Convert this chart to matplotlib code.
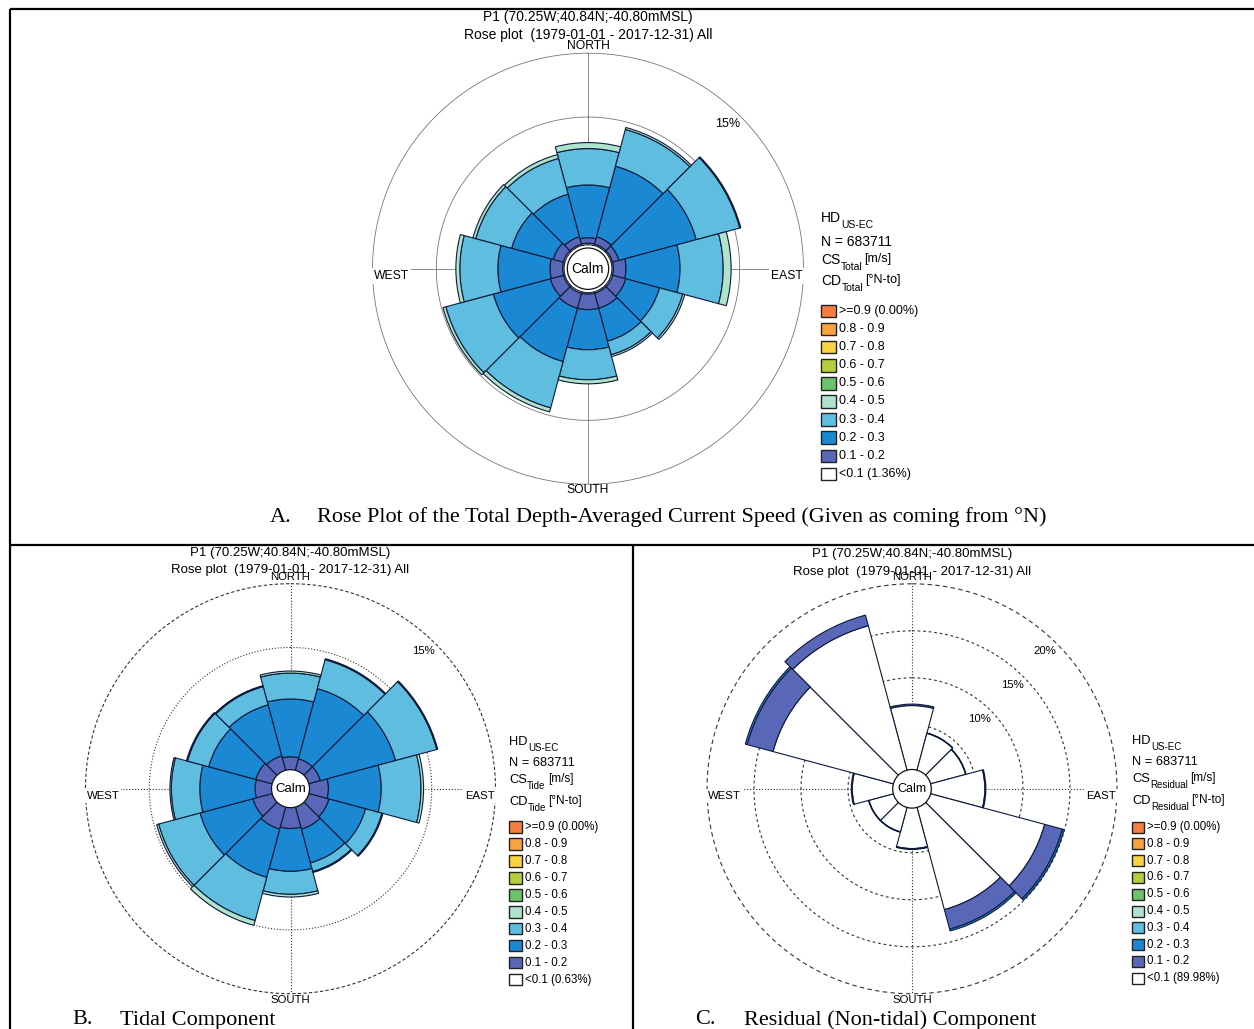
import numpy as np
import matplotlib.pyplot as plt
from matplotlib.patches import Rectangle, Circle

plt.rcParams['font.family'] = ['Liberation Sans', 'DejaVu Sans']

W, H = 1254, 1029

# sector centres, degrees clockwise from north (12 sectors of 30 deg)
sectors = np.arange(0, 360, 30)

classes = ['>=0.9', '0.8 - 0.9', '0.7 - 0.8', '0.6 - 0.7', '0.5 - 0.6',
           '0.4 - 0.5', '0.3 - 0.4', '0.2 - 0.3', '0.1 - 0.2', '<0.1']
class_colors = ['#f57d3f', '#f7a43e', '#f9d340', '#b4cf3c', '#6cc36c',
                '#b0e3cc', '#5fbde0', '#1b88d3', '#5867b8', '#ffffff']

# A - total current, frequency % per sector (N, NNE, ... NNW)
total_lt01 = [0.12, 0.11, 0.11, 0.11, 0.12, 0.11, 0.11, 0.12, 0.11, 0.11, 0.12, 0.11]
total_01_02 = [0.43, 0.60, 0.52, 0.99, 1.06, 1.22, 1.22, 1.21, 1.07, 0.99, 0.82, 0.60]
total_02_03 = [4.13, 5.72, 6.27, 4.23, 2.74, 2.67, 3.14, 4.32, 4.62, 4.08, 3.37, 3.45]
total_03_04 = [2.85, 2.98, 3.53, 3.38, 1.88, 1.10, 2.35, 3.76, 3.85, 2.98, 2.91, 2.90]
total_04_05 = [0.47, 0.16, 0.08, 0.62, 0.16, 0.15, 0.32, 0.32, 0.23, 0.31, 0.23, 0.31]

# B - tidal component
tide_lt01 = [0.06, 0.05, 0.05, 0.06, 0.05, 0.05, 0.06, 0.05, 0.05, 0.06, 0.05, 0.05]
tide_01_02 = [1.37, 1.30, 1.30, 1.84, 2.00, 2.16, 1.99, 2.16, 1.93, 1.64, 1.69, 1.54]
tide_02_03 = [4.53, 5.70, 6.10, 4.14, 2.97, 2.74, 3.36, 3.91, 4.29, 4.34, 3.83, 4.14]
tide_03_04 = [2.03, 2.35, 3.35, 3.12, 1.33, 0.70, 1.80, 3.51, 3.36, 2.23, 1.72, 1.48]
tide_04_05 = [0.16, 0.08, 0.08, 0.20, 0.08, 0.08, 0.21, 0.39, 0.16, 0.11, 0.08, 0.08]

# C - residual (non-tidal) component
res_lt01 = [7.05, 4.30, 4.10, 5.95, 12.80, 11.50, 4.55, 2.93, 2.93, 4.55, 13.50, 16.15]
res_01_02 = [0.15, 0.05, 0.05, 0.10, 1.95, 2.15, 0.10, 0.05, 0.05, 0.10, 2.85, 1.17]
res_02_03 = [0, 0, 0, 0, 0.20, 0.20, 0, 0, 0, 0, 0.20, 0]

title1 = 'P1 (70.25W;40.84N;-40.80mMSL)'
title2 = 'Rose plot  (1979-01-01 - 2017-12-31) All'

fig = plt.figure(figsize=(W / 100, H / 100), dpi=100)


def rose_axes(cx, cy, R, r0, rmax):
    ax = fig.add_axes([(cx - R) / W, 1 - (cy + R) / H, 2 * R / W, 2 * R / H],
                      projection='polar')
    ax.set_theta_zero_location('N')
    ax.set_theta_direction(-1)
    ax.set_ylim(0, rmax)
    ax.set_rorigin(-r0 * rmax / (R - r0))
    ax.set_xticks([])
    ax.set_yticks([])
    ax.grid(False)
    for s in ax.spines.values():
        s.set_visible(False)
    ax.patch.set_visible(False)
    return ax


def draw_grid(ax, rings, rmax, col, lw, ring_ls, outer_ls, cross_ls):
    th = np.linspace(0, 2 * np.pi, 500)
    for p in rings:
        ax.plot(th, np.full_like(th, p), color=col, lw=lw, ls=ring_ls, zorder=1)
    ax.plot(th, np.full_like(th, rmax), color=col, lw=lw, ls=outer_ls,
            zorder=1, clip_on=False)
    for a in (0, 90, 180, 270):
        ax.plot(np.deg2rad([a, a]), [0, rmax], color=col, lw=lw, ls=cross_ls, zorder=1)


def draw_bars(ax, layers, colors):
    theta = np.deg2rad(sectors)
    bottom = np.zeros(len(sectors))
    for vals, c in zip(layers, colors):
        vals = np.asarray(vals, float)
        m = vals > 0
        ax.bar(theta[m], vals[m], width=np.deg2rad(30), bottom=bottom[m],
               color=c, edgecolor='#0d1b3a', linewidth=0.8, zorder=3)
        bottom += vals


def pct_labels(ax, rings, k, fs):
    for p in rings:
        ax.text(np.deg2rad(44), p - 14 / k, f'{p}%', fontsize=fs,
                ha='center', va='center', zorder=5)


# --- A
axA = rose_axes(588, 268.7, 215.5, 24, 15)
draw_grid(axA, [5, 10], 15, '#777777', 0.6, '-', '-', '-')
draw_bars(axA, [total_lt01, total_01_02, total_02_03, total_03_04, total_04_05],
          class_colors[::-1][:5])
pct_labels(axA, [15], 12.77, 9)

# --- B
axB = rose_axes(290.5, 788.7, 205, 13.7, 15)
draw_grid(axB, [5, 10], 15, '#333333', 0.8, ':', (0, (3, 2)), ':')
draw_bars(axB, [tide_lt01, tide_01_02, tide_02_03, tide_03_04, tide_04_05],
          class_colors[::-1][:5])
pct_labels(axB, [15], 12.75, 8.2)

# --- C
axC = rose_axes(912, 788.8, 205, 17, 20)
draw_grid(axC, [5, 10, 15], 20, '#333333', 0.8, (0, (2.5, 2.5)), (0, (4, 3)), ':')
draw_bars(axC, [res_lt01, res_01_02, res_02_03], class_colors[::-1][:3])
pct_labels(axC, [10, 15, 20], 9.4, 8.2)

# --- overlay in pixel coordinates
ov = fig.add_axes([0, 0, 1, 1])
ov.set_xlim(0, W)
ov.set_ylim(H, 0)
ov.axis('off')

frame = dict(color='black', lw=1.6, solid_capstyle='butt', clip_on=False)
ov.plot([10, W], [9, 9], **frame)
ov.plot([10, 10], [9, H], **frame)
ov.plot([10, W], [545, 545], **frame)
ov.plot([633, 633], [545, H], **frame)


def rose_text(cx, cy, R, calm_r, tfs, cfs, calm_fs, t1y):
    wbox = dict(facecolor='white', edgecolor='none', pad=1.5)
    ov.text(cx, cy - R - 7, 'NORTH', fontsize=cfs, ha='center', va='center')
    ov.text(cx, cy + R + 6, 'SOUTH', fontsize=cfs, ha='center', va='center')
    ov.text(cx - R + 1, cy + 7.5, 'WEST', fontsize=cfs, ha='left', va='center', bbox=wbox)
    ov.text(cx + R - 1, cy + 7.5, 'EAST', fontsize=cfs, ha='right', va='center', bbox=wbox)
    ov.text(cx, t1y, title1, fontsize=tfs, ha='center', va='center')
    ov.text(cx, t1y + 17.5, title2, fontsize=tfs, ha='center', va='center')
    ov.add_patch(Circle((cx, cy), calm_r, facecolor='white', edgecolor='#111111',
                        lw=0.9, zorder=4))
    ov.text(cx, cy, 'Calm', fontsize=calm_fs, ha='center', va='center', zorder=5)


rose_text(588, 268.7, 215.5, 20.7, 10, 8.7, 10, 17)
rose_text(290.5, 788.7, 205, 19, 9.5, 8.2, 9.5, 553)
rose_text(912, 788.8, 205, 19.3, 9.5, 8.2, 9, 554)


def sub_label(x, y, main, sub, tail, fs, sfs):
    t = ov.text(x, y, main, fontsize=fs, ha='left', va='center')
    s = ov.annotate(sub, xy=(1, 0), xycoords=t, xytext=(0.3, 0),
                    textcoords='offset points', fontsize=sfs, ha='left', va='center')
    if tail:
        ov.annotate(tail, xy=(1, 0.5), xycoords=(s, t), xytext=(1.5, 0.5),
                    textcoords='offset points', fontsize=sfs + 1.5, ha='left', va='center')


def legend(x, head_y, comp, low_pct, y0, dy, bw, bh, fs, hfs, sfs):
    sub_label(x, head_y[0], 'HD', 'US-EC', '', hfs, sfs)
    ov.text(x, head_y[1], 'N = 683711', fontsize=hfs, ha='left', va='center')
    sub_label(x, head_y[2], 'CS', comp, '[m/s]', hfs, sfs)
    sub_label(x, head_y[3], 'CD', comp, '[°N-to]', hfs, sfs)
    for i, (lab, c) in enumerate(zip(classes, class_colors)):
        yc = y0 + i * dy
        ov.add_patch(Rectangle((x, yc - bh / 2), bw, bh, facecolor=c,
                               edgecolor='#222222', lw=1.0))
        if lab == '>=0.9':
            lab = '>=0.9 (0.00%)'
        elif lab == '<0.1':
            lab = f'<0.1 ({low_pct})'
        ov.text(x + bw + 3, yc, lab, fontsize=fs, ha='left', va='center')


legend(821, [218, 242, 260, 281], 'Total', '1.36%', 311, 18.1, 15, 12.5, 9, 10, 7.5)
legend(509, [742, 763, 780, 802], 'Tide', '0.63%', 827, 16.95, 13, 11.5, 8.3, 9.3, 7)
legend(1132, [741, 762, 779, 801], 'Residual', '89.98%', 827, 16.8, 12, 11, 8.3, 9.3, 7)

cap = dict(fontsize=16, family='Liberation Serif', ha='left', va='center')
ov.text(270, 517, 'A.', **cap)
ov.text(317, 517, 'Rose Plot of the Total Depth-Averaged Current Speed (Given as coming from °N)', **cap)
ov.text(72, 1020, 'B.', **cap)
ov.text(120, 1020, 'Tidal Component', **cap)
ov.text(695, 1020, 'C.', **cap)
ov.text(744, 1020, 'Residual (Non-tidal) Component', **cap)

fig.savefig('out.png', dpi=100)
